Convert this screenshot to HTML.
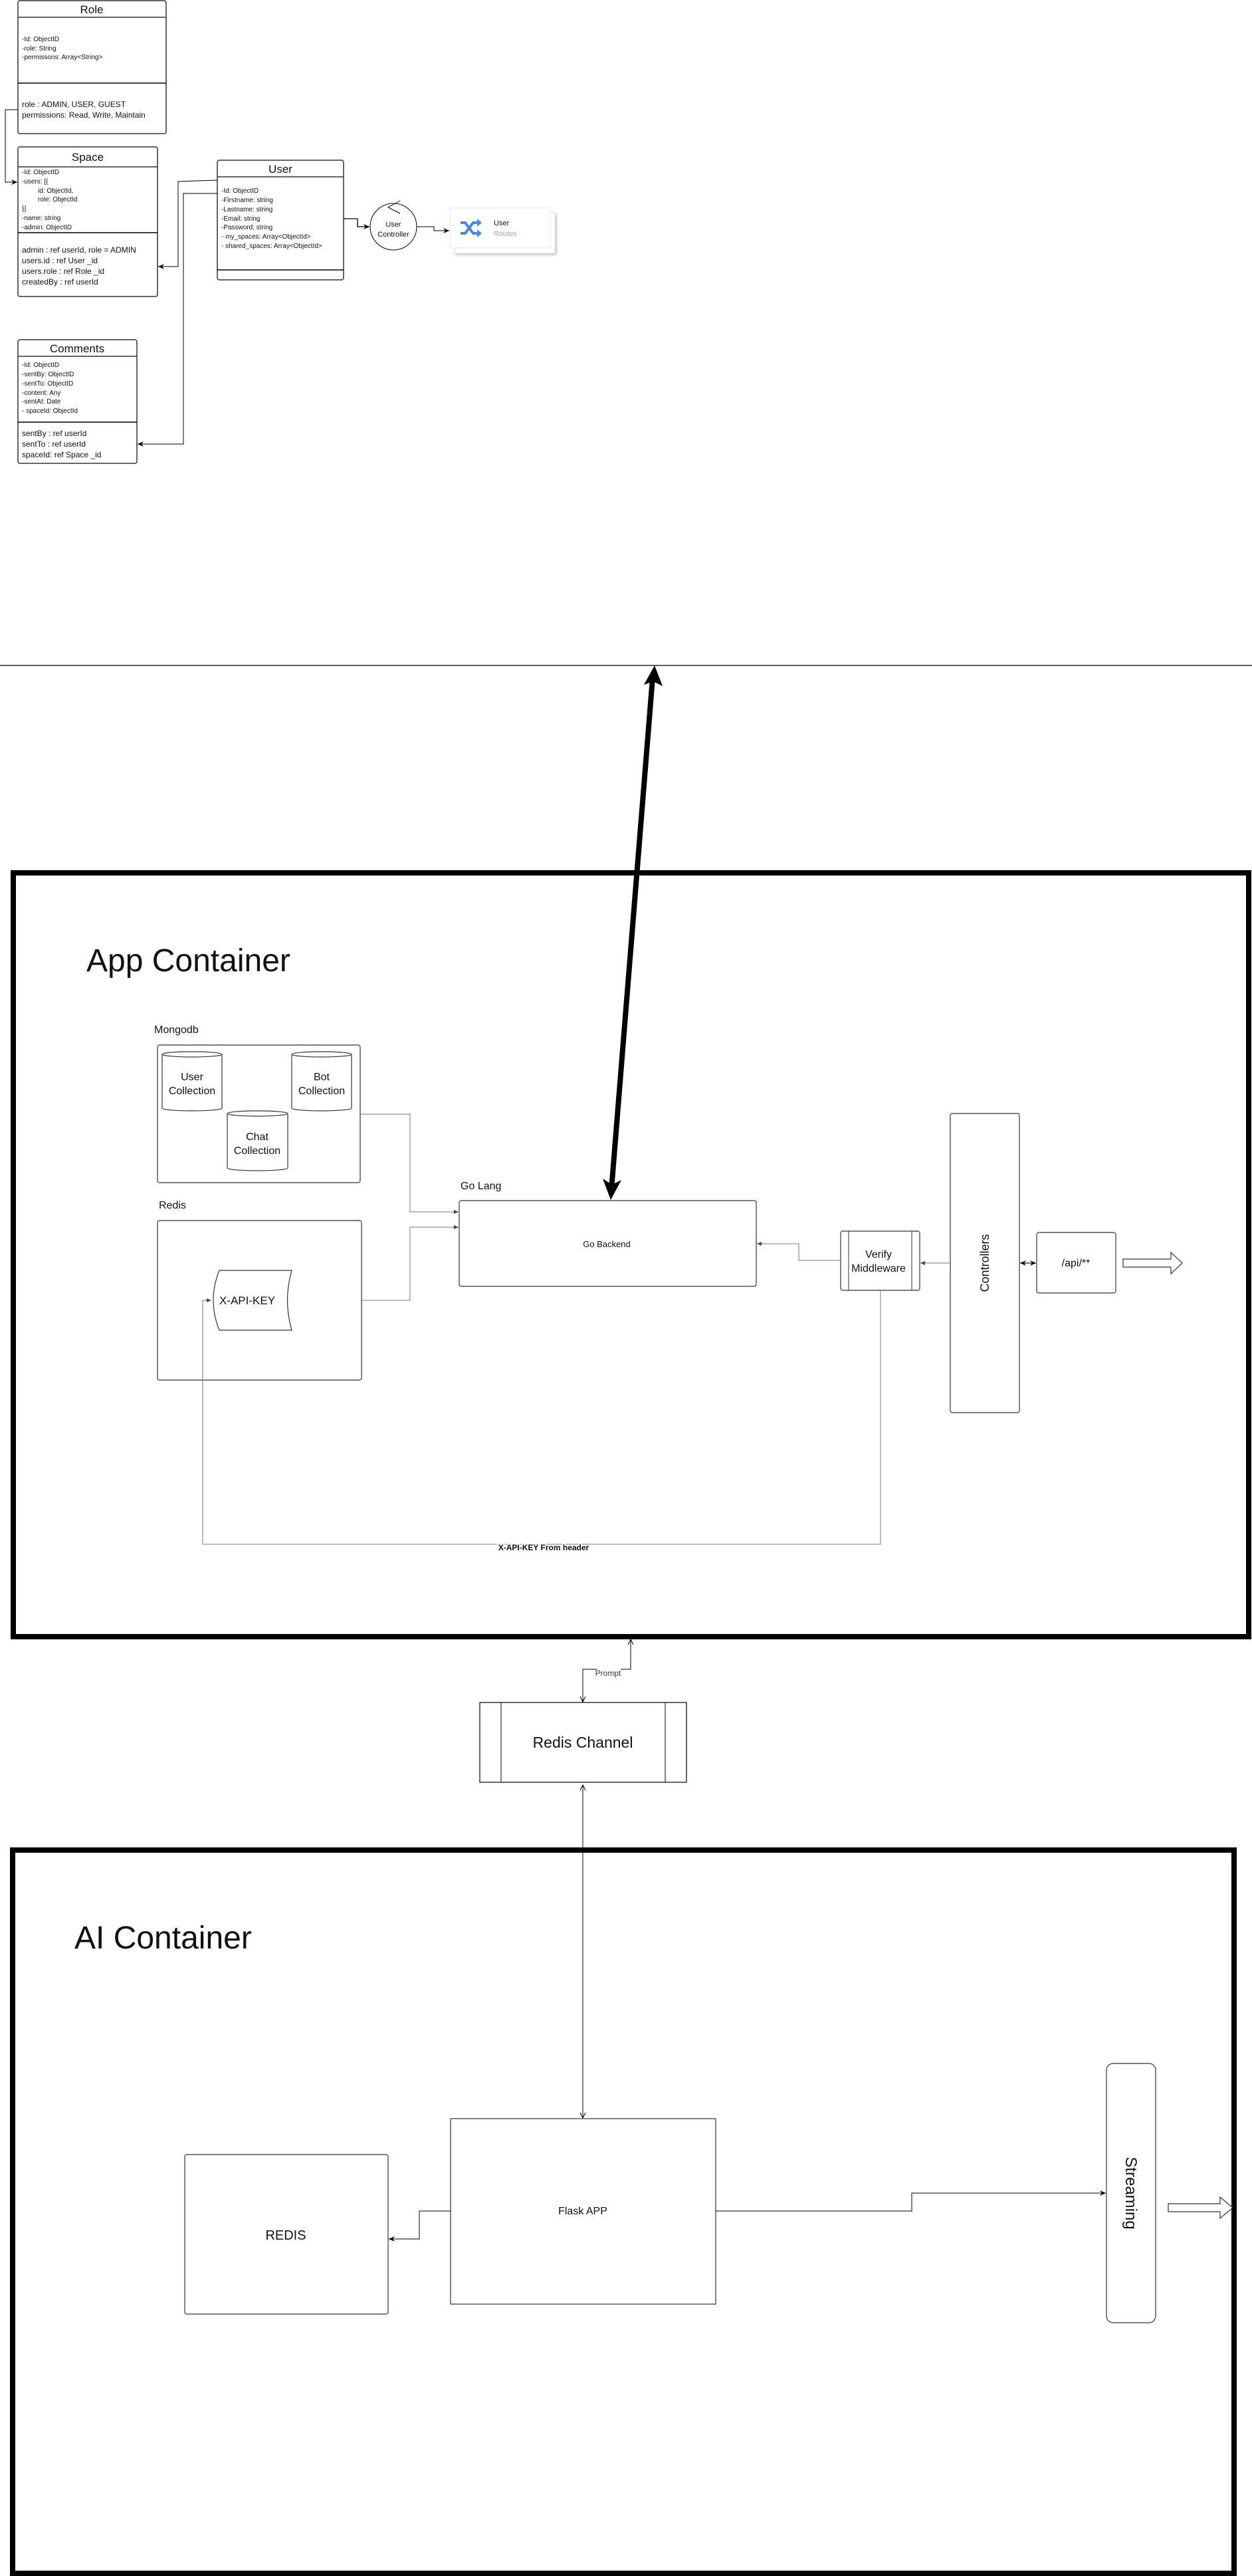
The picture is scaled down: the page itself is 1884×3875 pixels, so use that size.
<!DOCTYPE html>
<html><head><meta charset="utf-8"><style>
html,body{margin:0;padding:0;background:#fff;}
svg{display:block;}
.n{font-family:"Liberation Sans Narrow","Liberation Sans",sans-serif;fill:#111;}
.r{font-family:"Liberation Sans",sans-serif;fill:#111;}
</style></head><body>
<svg width="1884" height="3875" viewBox="0 0 1884 3875" xmlns="http://www.w3.org/2000/svg">
<defs>
<marker id="a" markerWidth="10" markerHeight="10" refX="9" refY="5" orient="auto" markerUnits="userSpaceOnUse"><path d="M0,1 L9,5 L0,9 L3,5 Z" fill="#000"/></marker>
<marker id="g" markerWidth="8" markerHeight="8" refX="7" refY="4" orient="auto" markerUnits="userSpaceOnUse"><path d="M0,1 L7,4 L0,7 Z" fill="#444"/></marker>
<marker id="o" markerWidth="10" markerHeight="10" refX="9" refY="5" orient="auto" markerUnits="userSpaceOnUse"><path d="M1,1 L9,5 L1,9" fill="none" stroke="#000" stroke-width="1"/></marker>
<marker id="os" markerWidth="10" markerHeight="10" refX="1" refY="5" orient="auto" markerUnits="userSpaceOnUse"><path d="M9,1 L1,5 L9,9" fill="none" stroke="#000" stroke-width="1"/></marker>
<marker id="as" markerWidth="10" markerHeight="10" refX="1" refY="5" orient="auto" markerUnits="userSpaceOnUse"><path d="M10,1 L1,5 L10,9 L7,5 Z" fill="#000"/></marker>
</defs>
<rect width="1884" height="3875" fill="#fff"/>

<g stroke="#333" stroke-width="1.5" fill="none">
<rect x="27" y="1" width="223" height="200" rx="3"/>
<line x1="27" y1="26" x2="250" y2="26"/><line x1="27" y1="125" x2="250" y2="125" stroke="#000"/>
<rect x="27" y="221" width="210" height="225" rx="3"/>
<line x1="27" y1="251" x2="237" y2="251"/><line x1="27" y1="350" x2="237" y2="350" stroke="#000"/>
<rect x="327" y="241" width="190" height="180" rx="3"/>
<line x1="327" y1="266" x2="517" y2="266"/><line x1="327" y1="406" x2="517" y2="406" stroke="#000"/>
<rect x="27" y="511" width="179" height="186" rx="3"/>
<line x1="27" y1="536" x2="206" y2="536"/><line x1="27" y1="635" x2="206" y2="635" stroke="#000"/>
</g>
<text class="r" x="138" y="20" font-size="17" text-anchor="middle">Role</text>
<g class="r" font-size="10"><text x="33" y="62">-Id: ObjectID</text><text x="33" y="76">-role: String</text><text x="33" y="89">-permissons: Array&lt;String&gt;</text></g>
<g class="r" font-size="12"><text x="33" y="161">role : ADMIN, USER, GUEST</text><text x="33" y="177">permissions: Read, Write, Maintain</text></g>

<text class="r" x="132" y="242" font-size="17" text-anchor="middle">Space</text>
<g class="r" font-size="10"><text x="33" y="262">-Id: ObjectID</text><text x="33" y="276">-users: [{</text><text x="57" y="290">id: ObjectId,</text><text x="57" y="303">role: ObjectId</text><text x="33" y="317">}]</text><text x="33" y="331">-name: string</text><text x="33" y="345">-admin: ObjectID</text></g>
<g class="r" font-size="12"><text x="33" y="380">admin : ref userId, role = ADMIN</text><text x="33" y="396">users.id : ref User _id</text><text x="33" y="412">users.role : ref Role _id</text><text x="33" y="428">createdBy : ref userId</text></g>

<text class="r" x="422" y="260" font-size="17" text-anchor="middle">User</text>
<g class="r" font-size="10"><text x="333" y="290">-Id: ObjectID</text><text x="333" y="304">-Firstname: string</text><text x="333" y="318">-Lastname: string</text><text x="333" y="332">-Email: string</text><text x="333" y="345">-Password: string</text><text x="333" y="359">- my_spaces: Array&lt;ObjectId&gt;</text><text x="333" y="373">- shared_spaces: Array&lt;ObjectId&gt;</text></g>

<text class="r" x="116" y="530" font-size="17" text-anchor="middle">Comments</text>
<g class="r" font-size="10"><text x="33" y="552">-Id: ObjectID</text><text x="33" y="566">-sentBy: ObjectID</text><text x="33" y="580">-sentTo: ObjectID</text><text x="33" y="594">-content: Any</text><text x="33" y="607">-sentAt: Date</text><text x="33" y="621">- spaceId: ObjectId</text></g>
<g class="r" font-size="12"><text x="33" y="656">sentBy : ref userId</text><text x="33" y="672">sentTo : ref userId</text><text x="33" y="688">spaceId: ref Space _id</text></g>

<g stroke="#000" stroke-width="1" fill="none">
<polyline points="27,165 8,165 8,274 26,274" marker-end="url(#a)"/>
<polyline points="327,271 268,273 268,401 238,401" marker-end="url(#a)"/>
<polyline points="327,291 276,291 276,668 207,668" marker-end="url(#a)"/>
<polyline points="517,329 538,329 538,341 556,341" marker-end="url(#a)" stroke-width="1.3"/>
<polyline points="627,341 653,341 653,347 676,347" marker-end="url(#a)"/>
<ellipse cx="592" cy="341" rx="35" ry="35"/>
<polyline points="602,302 584,312 602,321"/>
</g>
<g class="r" font-size="11" text-anchor="middle"><text x="592" y="341">User</text><text x="592" y="356">Controller</text></g>
<rect x="684" y="320" width="151" height="61" fill="#fff" stroke="#e6e6e6" style="filter:drop-shadow(2px 2px 2px rgba(0,0,0,.25))"/>
<rect x="677" y="313" width="151" height="60" fill="#fff" stroke="#e6e6e6"/>
<g stroke="#4a86e8" stroke-width="4" fill="none"><path d="M693,335 L700,335 L712,351 L720,351"/><path d="M693,351 L700,351 L712,335 L720,335"/></g>
<path d="M718,329 L725,335 L718,341 Z M718,345 L725,351 L718,357 Z" fill="#4a86e8"/>
<text class="r" x="743" y="339" font-size="11">User</text>
<text class="r" x="743" y="355" font-size="11" style="fill:#aaa">Routes</text>

<line x1="0" y1="1001" x2="1884" y2="1001" stroke="#000" stroke-width="1.2"/>
<line x1="982" y1="1020" x2="920" y2="1790" stroke="#000" stroke-width="8"/>
<path d="M985,1001 L997,1032 L983,1025 L969,1030 Z" fill="#000"/>
<path d="M919,1805 L935,1775 L921,1782 L907,1773 Z" fill="#000"/>

<rect x="20" y="1313" width="1859" height="1149" fill="none" stroke="#000" stroke-width="8"/>
<text class="n" x="130" y="1461" font-size="48">App Container</text>
<text class="n" x="232" y="1554" font-size="16">Mongodb</text>
<rect x="237" y="1572" width="305" height="207" rx="3" fill="none" stroke="#333" stroke-width="1.2"/>
<g stroke="#333" stroke-width="1.2" fill="#fff">
<path d="M244,1586 L244,1667 A45,4 0 0 0 334,1667 L334,1586"/><ellipse cx="289" cy="1586" rx="45" ry="4"/>
<path d="M439,1586 L439,1667 A45,4 0 0 0 529,1667 L529,1586"/><ellipse cx="484" cy="1586" rx="45" ry="4"/>
<path d="M342,1675 L342,1757 A45.5,4 0 0 0 433,1757 L433,1675"/><ellipse cx="387.5" cy="1675" rx="45.5" ry="4"/>
</g>
<g class="n" font-size="16" text-anchor="middle"><text x="289" y="1625">User</text><text x="289" y="1646">Collection</text><text x="484" y="1625">Bot</text><text x="484" y="1646">Collection</text><text x="387" y="1715">Chat</text><text x="387" y="1736">Collection</text></g>
<text class="n" x="239" y="1818" font-size="16">Redis</text>
<rect x="237" y="1836" width="307" height="240" rx="3" fill="none" stroke="#333" stroke-width="1.2"/>
<path d="M330,1911 L439,1911 Q426,1956 439,2001 L330,2001 Q312,1956 330,1911 Z" fill="#fff" stroke="#333" stroke-width="1.2"/>
<text class="n" x="372" y="1962" font-size="17" text-anchor="middle">X-API-KEY</text>
<text class="n" x="693" y="1789" font-size="16">Go Lang</text>
<rect x="691" y="1806" width="447" height="129" rx="3" fill="none" stroke="#333" stroke-width="1.2"/>
<text class="n" x="913" y="1876" font-size="13" text-anchor="middle">Go Backend</text>
<rect x="1265" y="1852" width="119" height="89" rx="3" fill="none" stroke="#333" stroke-width="1.2"/>
<line x1="1277" y1="1852" x2="1277" y2="1941" stroke="#333"/><line x1="1372" y1="1852" x2="1372" y2="1941" stroke="#333"/>
<g class="n" font-size="16" text-anchor="middle"><text x="1322" y="1892">Verify</text><text x="1322" y="1913">Middleware</text></g>
<rect x="1430" y="1675" width="104" height="450" rx="3" fill="none" stroke="#333" stroke-width="1.2"/>
<text class="r" x="0" y="0" font-size="18" text-anchor="middle" transform="translate(1488,1900) rotate(-90)">Controllers</text>
<rect x="1560" y="1854" width="119" height="91" rx="3" fill="none" stroke="#333" stroke-width="1.2"/>
<text class="n" x="1619" y="1905" font-size="16" text-anchor="middle">/api/**</text>
<path d="M1690,1894 L1762,1894 L1762,1884 L1779,1900 L1762,1916 L1762,1906 L1690,1906 Z" fill="#fff" stroke="#333" stroke-width="1.2"/>
<g stroke="#777" stroke-width="1" fill="none">
<polyline points="542,1676 617,1676 617,1823 690,1823" marker-end="url(#g)"/>
<polyline points="544,1956 617,1956 617,1846 690,1846" marker-end="url(#g)"/>
<polyline points="1265,1896 1202,1896 1202,1871 1139,1871" marker-end="url(#g)"/>
<polyline points="1430,1900 1385,1900" marker-end="url(#g)"/>
<polyline points="1325,1941 1325,2323 305,2323 305,1956 318,1956" marker-end="url(#g)"/>
</g>
<line x1="1535" y1="1900" x2="1559" y2="1900" stroke="#222" stroke-width="1.2" marker-start="url(#as)" marker-end="url(#a)"/>
<text class="n" x="818" y="2332" font-size="12" font-weight="bold" text-anchor="middle" style="paint-order:stroke" stroke="#fff" stroke-width="3">X-API-KEY From header</text>

<g stroke="#000" stroke-width="1" fill="none">
<polyline points="877,2560 877,2511 949,2511 949,2466" marker-start="url(#os)" marker-end="url(#o)"/>
<line x1="877" y1="2685" x2="877" y2="3186" marker-start="url(#os)" marker-end="url(#o)"/>
</g>
<rect x="898" y="2507" width="36" height="14" fill="#fff"/>
<text class="r" x="915" y="2521" font-size="12" text-anchor="middle" style="fill:#333">Prompt</text>
<rect x="722" y="2561" width="311" height="120" fill="#fff" stroke="#000" stroke-width="1.2"/>
<line x1="754" y1="2561" x2="754" y2="2681" stroke="#000"/><line x1="1001" y1="2561" x2="1001" y2="2681" stroke="#000"/>
<text class="r" x="877" y="2629" font-size="23" text-anchor="middle">Redis Channel</text>

<rect x="19" y="2783" width="1838" height="1088" fill="none" stroke="#000" stroke-width="8"/>
<text class="n" x="112" y="2931" font-size="48">AI Container</text>
<rect x="278" y="3241" width="306" height="240" rx="3" fill="none" stroke="#333" stroke-width="1.2"/>
<text class="n" x="430" y="3369" font-size="20" text-anchor="middle">REDIS</text>
<rect x="678" y="3187" width="399" height="279" fill="none" stroke="#333" stroke-width="1.2"/>
<text class="n" x="877" y="3331" font-size="16" text-anchor="middle">Flask APP</text>
<rect x="1665" y="3104" width="74" height="390" rx="10" fill="none" stroke="#333" stroke-width="1.2"/>
<text class="r" x="0" y="0" font-size="24" text-anchor="middle" transform="translate(1694,3299) rotate(90)">Streaming</text>
<g stroke="#000" stroke-width="1" fill="none">
<polyline points="678,3326 631,3326 631,3368 585,3368" marker-end="url(#a)"/>
<polyline points="1077,3326 1372,3326 1372,3299 1664,3299" marker-end="url(#a)"/>
</g>
<path d="M1758,3315 L1836,3315 L1836,3305 L1855,3321 L1836,3337 L1836,3327 L1758,3327 Z" fill="#fff" stroke="#333" stroke-width="1.2"/>
</svg>
</body></html>
